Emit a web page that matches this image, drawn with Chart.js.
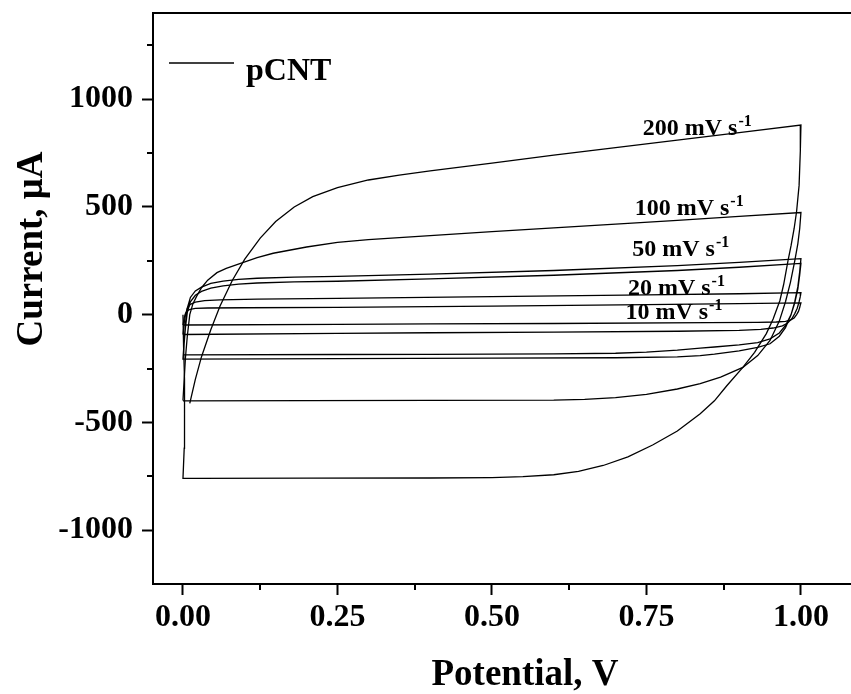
<!DOCTYPE html>
<html>
<head>
<meta charset="utf-8">
<script src="https://cdn.jsdelivr.net/npm/chart.js@4.4.0/dist/chart.umd.min.js"></script>
<style>
  html, body { margin: 0; padding: 0; background: #fff; overflow: hidden; }
  #wrap { width: 851px; height: 694px; }
</style>
</head>
<body>
<div id="wrap"><canvas id="cvChart"></canvas></div>
<script>
// cyclic voltammograms of pCNT, [potential V, current µA]
const cv10 = [[0,-48],[0.002,-15],[0.004,5],[0.007,18],[0.012,25],[0.02,29],[0.04,31],[0.1,32],[0.25,34],[0.5,40],[0.75,47],[0.9,51],[1.0,55],
  [0.999,45],[0.998,33],[0.996,15],[0.993,0],[0.989,-15],[0.983,-25],[0.975,-31],[0.96,-34],[0.93,-36],[0.85,-37],[0.6,-41],[0.4,-43],[0.25,-45],[0,-48]];
const cv20 = [[0,-92],[0.002,-40],[0.004,0],[0.007,30],[0.012,48],[0.02,58],[0.035,65],[0.06,69],[0.12,72],[0.25,76],[0.5,84],[0.75,92],[0.9,97],[1.0,102],
  [0.999,85],[0.997,60],[0.994,30],[0.99,5],[0.985,-20],[0.978,-40],[0.97,-52],[0.955,-62],[0.935,-68],[0.9,-73],[0.8,-77],[0.6,-81],[0.4,-84],[0.25,-87],[0,-92]];
const cv50 = [[0,-206],[0.002,-120],[0.004,-40],[0.007,30],[0.012,80],[0.02,110],[0.03,128],[0.045,145],[0.065,156],[0.09,164],[0.12,169],[0.18,174],
  [0.25,178],[0.4,188],[0.6,205],[0.8,228],[0.9,243],[1.0,260],
  [0.998,200],[0.995,130],[0.99,60],[0.984,0],[0.975,-60],[0.965,-100],[0.95,-135],[0.93,-152],[0.9,-168],[0.86,-183],[0.837,-190],[0.8,-196],
  [0.7,-200],[0.5,-202],[0.25,-204],[0,-206],
  [0.002,-130],[0.004,-60],[0.007,10],[0.012,60],[0.02,90],[0.03,108],[0.045,123],[0.065,134],[0.09,142],[0.12,147],[0.18,152],[0.25,155],
  [0.4,166],[0.6,183],[0.8,205],[0.9,220],[1.0,238],
  [0.998,185],[0.995,120],[0.99,55],[0.984,0],[0.975,-50],[0.965,-85],[0.95,-112],[0.93,-130],[0.9,-140],[0.86,-150],[0.837,-155],[0.8,-165],
  [0.75,-174],[0.7,-179],[0.6,-182],[0.4,-184],[0.25,-185],[0,-187]];
const cv100 = [[0,-398],[0.002,-300],[0.004,-200],[0.007,-100],[0.011,0],[0.016,50],[0.022,85],[0.03,125],[0.04,160],[0.055,195],[0.07,215],
  [0.092,237],[0.12,265],[0.146,285],[0.2,314],[0.25,335],[0.3,348],[0.4,367],[0.5,385],[0.6,403],[0.7,420],[0.8,438],[0.9,456],[1.0,474],
  [0.998,400],[0.995,330],[0.99,250],[0.983,150],[0.975,60],[0.965,-30],[0.95,-120],[0.93,-190],[0.906,-245],[0.87,-290],[0.837,-320],
  [0.8,-345],[0.75,-370],[0.7,-385],[0.65,-393],[0.6,-397],[0.4,-398],[0.2,-399],[0,-400]];
const cv200 = [[0.011,-412],[0.02,-300],[0.03,-195],[0.045,-70],[0.06,40],[0.08,160],[0.1,258],[0.125,355],[0.15,432],[0.18,500],[0.21,548],
  [0.25,590],[0.3,625],[0.35,648],[0.4,667],[0.5,703],[0.6,740],[0.7,775],[0.8,810],[0.9,845],[1.0,880],
  [0.999,760],[0.997,600],[0.993,480],[0.989,400],[0.984,320],[0.979,250],[0.972,140],[0.966,66],[0.955,-20],[0.944,-88],[0.925,-175],
  [0.906,-245],[0.88,-330],[0.86,-400],[0.837,-460],[0.8,-540],[0.76,-605],[0.72,-660],[0.68,-700],[0.64,-727],[0.6,-743],[0.55,-752],
  [0.5,-756],[0.4,-758],[0.2,-759],[0.02,-760],[0,-760],
  [0.002,-620],[0.003,-470],[0.002,-300],[0.001,-150],[0,0]];

const loops = [cv10, cv20, cv50, cv100, cv200];
const scanRates = ['10', '20', '50', '100', '200'];
// where each scan-rate tag sits, in data units (left edge, baseline)
const tagV = [0.716, 0.720, 0.727, 0.731, 0.744];
const tagI = [-19, 89, 270, 461, 836];

const xTicks = [0, 0.25, 0.5, 0.75, 1.0];
const xMinor = [0.125, 0.375, 0.625, 0.875];
const yTicks = [-1000, -500, 0, 500, 1000];
const yMinor = [-750, -250, 250, 750, 1250];

const SERIF = "'Liberation Serif', 'Times New Roman', serif";

// top frame line, minor ticks, legend, tags and axis titles
const decorations = {
  id: 'decorations',
  afterDraw(chart) {
    const { ctx, chartArea: a, scales: { x, y } } = chart;
    ctx.save();
    ctx.strokeStyle = '#000';
    ctx.fillStyle = '#000';
    ctx.lineWidth = 2;
    ctx.beginPath();
    ctx.moveTo(a.left - 1, a.top);
    ctx.lineTo(a.right, a.top);
    xMinor.forEach(v => {
      const px = Math.round(x.getPixelForValue(v));
      ctx.moveTo(px, a.bottom);
      ctx.lineTo(px, a.bottom + 6);
    });
    yMinor.forEach(v => {
      const py = Math.round(y.getPixelForValue(v));
      ctx.moveTo(a.left, py);
      ctx.lineTo(a.left - 6, py);
    });
    ctx.stroke();

    // legend
    ctx.lineWidth = 1.3;
    ctx.beginPath();
    ctx.moveTo(169, 63);
    ctx.lineTo(234, 63);
    ctx.stroke();
    ctx.font = 'bold 32px ' + SERIF;
    ctx.textBaseline = 'alphabetic';
    ctx.textAlign = 'left';
    ctx.fillText('pCNT', 246, 80);

    // scan-rate tags
    scanRates.forEach((r, i) => {
      const px = x.getPixelForValue(tagV[i]);
      const py = y.getPixelForValue(tagI[i]);
      ctx.font = 'bold 24px ' + SERIF;
      const main = r + ' mV s';
      ctx.fillText(main, px, py);
      const w = ctx.measureText(main).width;
      ctx.font = 'bold 16px ' + SERIF;
      ctx.fillText('-1', px + w + 1, py - 9);
    });

    // axis titles
    ctx.font = 'bold 37px ' + SERIF;
    ctx.textAlign = 'center';
    ctx.fillText('Potential, V', 525, 685);
    ctx.translate(42, 249);
    ctx.rotate(-Math.PI / 2);
    ctx.fillText('Current, \u03bcA', 0, 0);
    ctx.restore();
  }
};

const tickFont = { family: SERIF, size: 32, weight: 'bold' };

new Chart(document.getElementById('cvChart'), {
  type: 'scatter',
  data: {
    datasets: loops.map((pts, i) => ({
      label: scanRates[i] + ' mV/s',
      data: pts.map(p => ({ x: p[0], y: p[1] })),
      showLine: true,
      borderColor: '#000',
      borderWidth: 1.3,
      pointRadius: 0,
      tension: 0,
      fill: false
    }))
  },
  options: {
    responsive: true,
    maintainAspectRatio: false,
    devicePixelRatio: 1,
    animation: false,
    layout: { padding: { top: 13, right: 0, left: 0, bottom: 0 } },
    plugins: { legend: { display: false }, tooltip: { enabled: false } },
    scales: {
      x: {
        type: 'linear',
        min: -0.0485,
        max: 1.081,
        afterBuildTicks: s => { s.ticks = xTicks.map(v => ({ value: v })); },
        afterFit: s => { s.height = 110; s.paddingLeft = 0; s.paddingRight = 0; },
        ticks: { callback: v => Number(v).toFixed(2), font: tickFont, color: '#000', padding: 4, maxRotation: 0, autoSkip: false },
        grid: { display: true, drawOnChartArea: false, drawTicks: true, tickLength: 11, tickWidth: 2, tickColor: '#000' },
        border: { display: true, color: '#000', width: 2 }
      },
      y: {
        min: -1250,
        max: 1400,
        afterBuildTicks: s => { s.ticks = yTicks.map(v => ({ value: v })); },
        afterFit: s => { s.width = 153; s.paddingTop = 0; s.paddingBottom = 0; },
        ticks: { callback: v => String(v), font: tickFont, color: '#000', padding: 9, autoSkip: false },
        grid: { display: true, drawOnChartArea: false, drawTicks: true, tickLength: 11, tickWidth: 2, tickColor: '#000' },
        border: { display: true, color: '#000', width: 2 }
      }
    }
  },
  plugins: [decorations]
});
</script>
</body>
</html>
